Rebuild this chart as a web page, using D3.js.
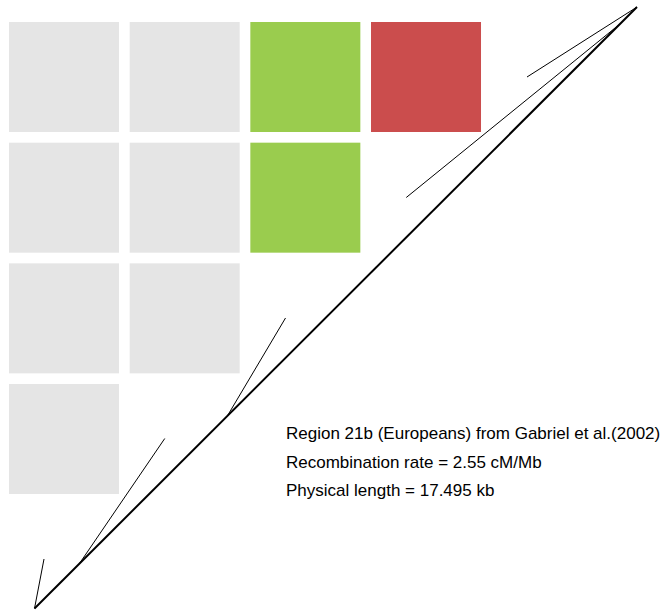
<!DOCTYPE html>
<html>
<head>
<meta charset="utf-8">
<script src="https://cdn.jsdelivr.net/npm/d3@7"></script>
<style>
html,body{margin:0;padding:0;background:#fff;}
svg{display:block;}
</style>
</head>
<body>
<svg id="chart" width="669" height="613"></svg>
<script>
// ---- data ----
const snpPositionsKb = [0, 1.3, 5.6, 17.0, 17.495];   // physical positions along region
const physicalLengthKb = 17.495;
const ldRows = [                                       // lower-triangle LD categories
  ["none", "none", "mid", "high"],
  ["none", "none", "mid"],
  ["none", "none"],
  ["none"]
];
const ldColors = { none: "#e5e5e5", mid: "#9acc4e", high: "#cb4d4d" };
const infoLines = [
  "Region 21b (Europeans) from Gabriel et al.(2002)",
  "Recombination rate = 2.55 cM/Mb",
  "Physical length = 17.495 kb"
];

// ---- layout ----
const svg = d3.select("#chart");
const nSnp = snpPositionsKb.length;
const cell = 110, step = 120.67, gx = 9, gy = 22;

// grid cells
const cells = [];
ldRows.forEach((row, r) => row.forEach((v, c) => cells.push({ r, c, v })));
const colScale = d3.scaleLinear().domain([0, 1]).range([gx, gx + step]);
const rowScale = d3.scaleLinear().domain([0, 1]).range([gy, gy + step]);
svg.append("g").selectAll("rect").data(cells).join("rect")
  .attr("x", d => colScale(d.c)).attr("y", d => rowScale(d.r))
  .attr("width", cell).attr("height", cell)
  .attr("fill", d => ldColors[d.v]);

// physical axis along diagonal
const physX = d3.scaleLinear().domain([0, physicalLengthKb]).range([34.5, 637]);
const physY = d3.scaleLinear().domain([0, physicalLengthKb]).range([608.5, 7]);
// evenly spaced marker tips
const tipX = d3.scaleLinear().domain([0, nSnp - 1]).range([44, 527]);
const tipY = d3.scaleLinear().domain([0, nSnp - 1]).range([559, 77]);

svg.append("line")
  .attr("x1", physX(0)).attr("y1", physY(0))
  .attr("x2", physX(physicalLengthKb)).attr("y2", physY(physicalLengthKb))
  .attr("stroke", "#000").attr("stroke-width", 2);

svg.append("g").selectAll("line").data(snpPositionsKb).join("line")
  .attr("x1", d => physX(d)).attr("y1", d => physY(d))
  .attr("x2", (d, i) => tipX(i)).attr("y2", (d, i) => tipY(i))
  .attr("stroke", "#000").attr("stroke-width", 1);

// text
svg.append("g").selectAll("text").data(infoLines).join("text")
  .attr("x", 286).attr("y", (d, i) => 439 + i * 28.5)
  .attr("font-family", "Liberation Sans, Arial, sans-serif")
  .attr("font-size", 17)
  .attr("fill", "#000")
  .text(d => d);
</script>
</body>
</html>
